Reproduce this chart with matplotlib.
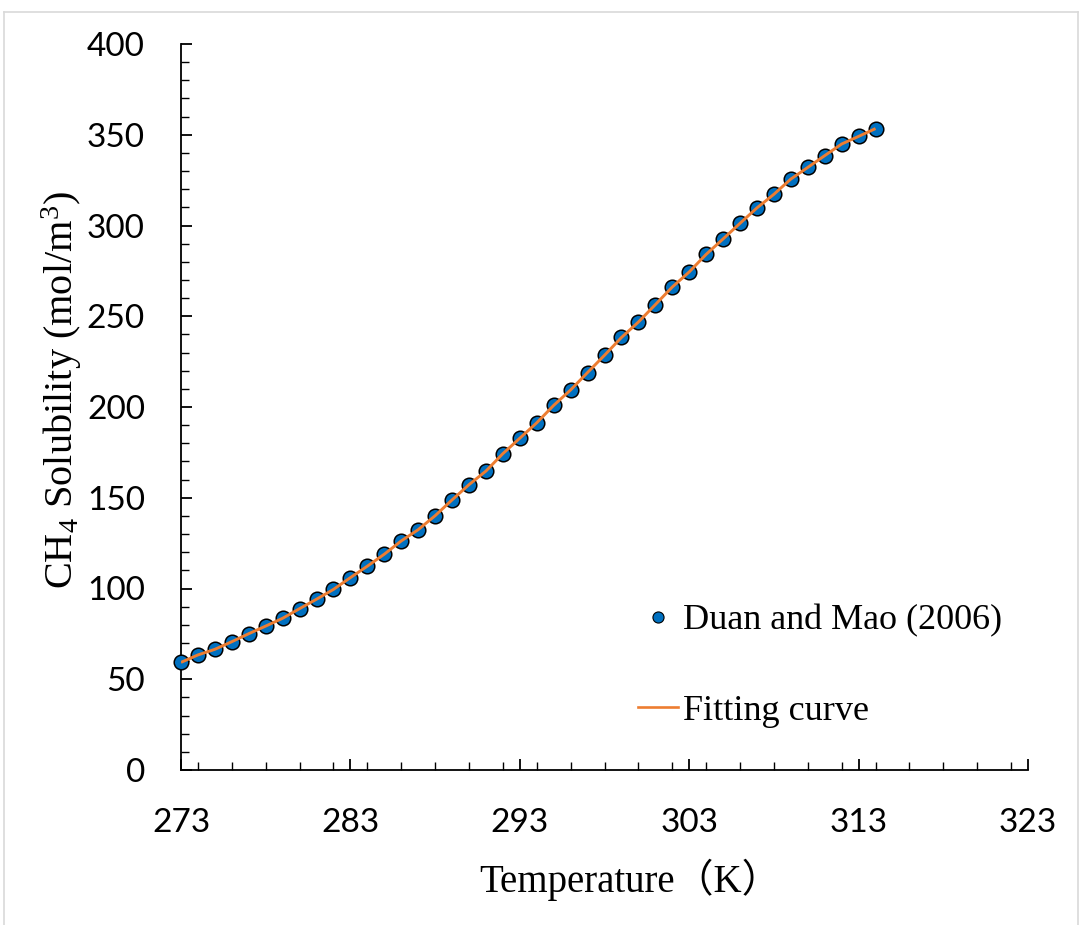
import matplotlib
matplotlib.use("Agg")
import matplotlib.pyplot as plt
from matplotlib.lines import Line2D
from matplotlib.ticker import MultipleLocator

temperature = list(range(273, 315))
solubility = [59.3, 63.4, 66.5, 70.7, 75.1, 79.3, 83.6, 88.9, 94.1, 99.5,
              106.0, 112.3, 118.9, 126.2, 132.4, 140.1, 148.8, 157.2, 164.7, 174.3,
              182.8, 191.3, 200.9, 209.4, 219.0, 228.5, 238.3, 246.8, 256.4, 266.1,
              274.4, 284.1, 292.6, 301.2, 309.7, 317.2, 325.6, 332.0, 338.5, 344.9,
              349.1, 353.4]
x_ticks = [273, 283, 293, 303, 313, 323]
y_ticks = [0, 50, 100, 150, 200, 250, 300, 350, 400]

plt.rcParams['mathtext.fontset'] = 'custom'
plt.rcParams['mathtext.rm'] = 'Liberation Serif'
plt.rcParams['mathtext.it'] = 'Liberation Serif:italic'

W, H = 1086, 925
fig = plt.figure(figsize=(W / 100, H / 100), dpi=100)
ax = fig.add_axes([181 / W, 1 - 770 / H, (1028 - 181) / W, (770 - 44) / H])

blue = '#0070C0'
orange = '#ED7D31'

ax.scatter(temperature, solubility, s=110, color=blue, edgecolors='black',
           linewidths=1.1, zorder=3, clip_on=False)
ax.plot(temperature, solubility, color=orange, lw=2.1, zorder=4, solid_capstyle='butt')

ax.set_xlim(273, 323)
ax.set_ylim(0, 400)
ax.set_xticks(x_ticks)
ax.set_yticks(y_ticks)
ax.xaxis.set_minor_locator(MultipleLocator(2))
ax.yaxis.set_minor_locator(MultipleLocator(10))

for s in ['top', 'right']:
    ax.spines[s].set_visible(False)
for s in ['left', 'bottom']:
    ax.spines[s].set_linewidth(1.3)
    ax.spines[s].set_color('black')

ax.tick_params(which='major', direction='in', length=8, width=1.3)
ax.tick_params(which='minor', direction='in', length=5.5, width=1.0)
ax.tick_params(axis='x', which='major', pad=27)
ax.tick_params(axis='y', which='major', pad=26)
for lab in ax.get_xticklabels() + ax.get_yticklabels():
    lab.set_fontfamily('Lato')
    lab.set_fontsize(24)

ax.set_ylabel(r'CH$_4$ Solubility (mol/m$^3$)', fontfamily='Liberation Serif', fontsize=29)
ax.yaxis.set_label_coords((84 - 181) / (1028 - 181), (770 - 390) / (770 - 44))
ax.set_xlabel('Temperature（K）', fontfamily=['Liberation Serif', 'Noto Sans CJK SC'], fontsize=28)
ax.xaxis.set_label_coords((630 - 181) / (1028 - 181), -(859 - 770) / (770 - 44))

handles = [
    Line2D([], [], ls='none', marker='o', markersize=8, markerfacecolor=blue,
           markeredgecolor='black', markeredgewidth=0.8),
    Line2D([], [], color=orange, lw=1.9),
]
leg = fig.legend(handles, ['Duan and Mao (2006)', 'Fitting curve'],
                 loc='center left', bbox_to_anchor=(638 / W, 1 - 666 / H),
                 frameon=False, handlelength=1.1, handletextpad=0.15,
                 labelspacing=1.58, borderpad=0, borderaxespad=0,
                 prop={'family': 'Liberation Serif', 'size': 26})

# light outer frame
frame_color = '#d9d9d9'
fig.add_artist(Line2D([4 / W, 4 / W], [0, 1 - 12 / H], transform=fig.transFigure, color=frame_color, lw=1.2))
fig.add_artist(Line2D([4 / W, 1078 / W], [1 - 12 / H, 1 - 12 / H], transform=fig.transFigure, color=frame_color, lw=1.2))
fig.add_artist(Line2D([1078 / W, 1078 / W], [0, 1 - 12 / H], transform=fig.transFigure, color=frame_color, lw=1.2))

fig.savefig('out.png', dpi=100)
